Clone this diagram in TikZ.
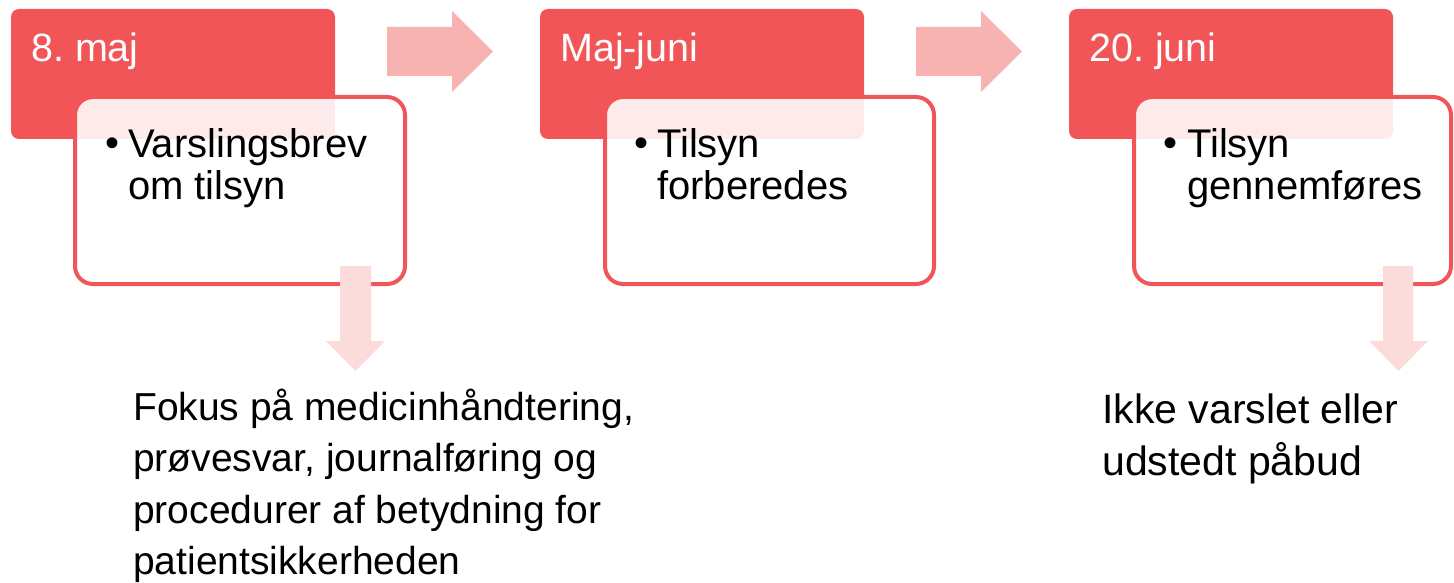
\documentclass[tikz,border=0pt]{standalone}
\usepackage{fontspec}
\setmainfont{Liberation Sans}
\frenchspacing
\definecolor{hdr}{RGB}{242,85,87}
\definecolor{arrR}{RGB}{247,179,177}
\definecolor{arrD}{RGB}{252,219,219}
\begin{document}
\begin{tikzpicture}[x=1pt,y=-1pt,
  hdrbox/.style={fill=hdr, rounded corners=8pt, inner sep=0pt, outer sep=0pt, anchor=north west},
  detbox/.style={fill=white, fill opacity=0.88, draw=hdr, draw opacity=1, line width=4pt, rounded corners=18pt, inner sep=0pt, outer sep=0pt, anchor=north west},
  hdrtxt/.style={text=white, inner sep=0pt, anchor=base west, font=\fontsize{39.5}{42}\selectfont\frenchspacing},
  bultxt/.style={text=black, inner sep=0pt, anchor=base west, align=left, font=\fontsize{40}{42}\selectfont\frenchspacing},
  bottxt/.style={text=black, inner sep=0pt, anchor=base west, align=left, font=\fontsize{39}{51.5}\selectfont\frenchspacing},
  rarrow/.style={fill=arrR},
  darrow/.style={fill=arrD}]
\useasboundingbox (0,0) rectangle (1454,583);

% step 1
\node[hdrbox, minimum width=324pt, minimum height=130pt] (h1) at (11,9) {};
\node[detbox, minimum width=330pt, minimum height=187pt] (d1) at (75,97) {};
\node[hdrtxt] (h1t) at (31,62) {8. maj};
\node[bultxt] (b1) at (105,157) {•};
\node[bultxt] (d1t) at (128,199) {Varslingsbrev\\om tilsyn};

% step 2
\node[hdrbox, minimum width=324pt, minimum height=130pt] (h2) at (540,9) {};
\node[detbox, minimum width=329pt, minimum height=187pt] (d2) at (605,97) {};
\node[hdrtxt] (h2t) at (560,62) {Maj-juni};
\node[bultxt] (b2) at (634,157) {•};
\node[bultxt] (d2t) at (657,199) {Tilsyn\\forberedes};

% step 3
\node[hdrbox, minimum width=324pt, minimum height=130pt] (h3) at (1069,9) {};
\node[detbox, minimum width=317pt, minimum height=187pt] (d3) at (1134,97) {};
\node[hdrtxt] (h3t) at (1089,62) {20. juni};
\node[bultxt] (b3) at (1163,157) {•};
\node[bultxt] (d3t) at (1187,199) {Tilsyn\\gennemføres};

% right arrows
\fill[rarrow] (387,27) -- (452,27) -- (452,11) -- (493,51.5) -- (452,92) -- (452,76) -- (387,76) -- cycle;
\fill[rarrow] (916,27) -- (981,27) -- (981,11) -- (1022,51.5) -- (981,92) -- (981,76) -- (916,76) -- cycle;

% down arrows
\fill[darrow] (340,266) -- (371,266) -- (371,341) -- (385,341) -- (355.5,371) -- (326,341) -- (340,341) -- cycle;
\fill[darrow] (1383,266) -- (1413,266) -- (1413,341) -- (1428,341) -- (1398.5,371) -- (1369,341) -- (1383,341) -- cycle;

% bottom texts
\node[bottxt] (n1) at (133,574.5) {Fokus på medicinhåndtering,\\prøvesvar, journalføring og\\procedurer af betydning for\\patientsikkerheden};
\node[bottxt, font=\fontsize{41}{52}\selectfont\frenchspacing] (n3) at (1102,475) {Ikke varslet eller\\udstedt påbud};
\end{tikzpicture}
\end{document}
